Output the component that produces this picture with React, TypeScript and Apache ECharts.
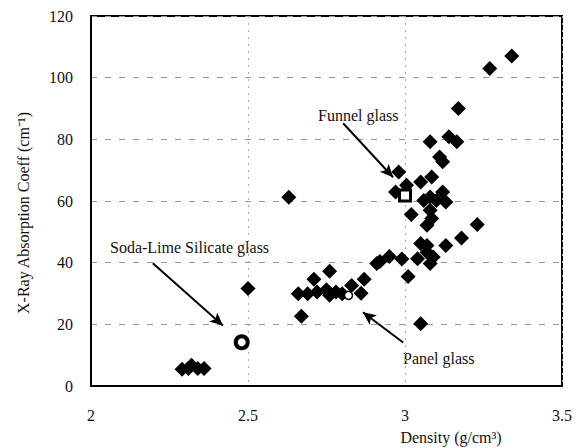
import React, { useEffect, useRef } from "react";
import * as echarts from "echarts";

// Diamonds: density (g/cm3), absorption coefficient (cm-1)
const diamondX = [
  2.29, 2.31, 2.32, 2.34, 2.36,
  2.50, 2.63,
  2.66, 2.67, 2.69, 2.71, 2.72, 2.75, 2.76, 2.76, 2.78, 2.80, 2.83, 2.86, 2.87,
  2.91, 2.92, 2.95, 2.99, 3.01, 3.04, 3.05, 3.07, 3.08, 3.09, 3.07, 3.13, 3.18, 3.23, 3.05,
  2.98, 2.97, 3.005, 3.02, 3.05, 3.085, 3.06, 3.08, 3.10, 3.12, 3.13, 3.08, 3.07, 3.085,
  3.08, 3.11, 3.12, 3.14, 3.165, 3.17, 3.27, 3.34,
];
const diamondY = [
  5.4, 5.7, 6.7, 5.7, 5.7,
  31.6, 61.2,
  29.9, 22.6, 29.9, 34.6, 30.5, 31.2, 37.2, 29.4, 30.5, 29.9, 32.6, 30.1, 34.6,
  39.7, 40.4, 42.0, 41.2, 35.5, 41.3, 46.2, 43.4, 39.7, 41.8, 45.6, 45.6, 48.0, 52.4, 20.2,
  69.4, 62.9, 65.1, 55.6, 66.2, 67.8, 60.2, 61.3, 60.2, 62.9, 59.7, 57.0, 52.1, 54.3,
  79.2, 74.3, 72.7, 80.8, 79.2, 90.0, 103, 107,
];

// Reference glasses
const sodaLime = [2.48, 14.2];
const panelGlass = [2.82, 29.4];
const funnelGlass = [3.0, 61.8];

// Annotation arrows (data coordinates: from -> to)
const arrows = [
  [[2.803, 85.2], [2.962, 67.7]],
  [[2.197, 39.8], [2.42, 19.6]],
  [[2.994, 14.1], [2.866, 23.9]],
];

const xTicks = { min: 2, max: 3.5, interval: 0.5 };
const yTicks = { min: 0, max: 120, interval: 20 };

const FONT = "Liberation Serif";

export default function App() {
  const ref = useRef<HTMLDivElement>(null);
  useEffect(() => {
    if (!ref.current) return;
    const chart = echarts.init(ref.current, null, { renderer: "svg" });
    const diamonds = diamondX.map((x, i) => [x, diamondY[i]]);
    chart.setOption({
      animation: false,
      backgroundColor: "#fff",
      grid: {
        left: 91,
        top: 16,
        right: 14,
        bottom: 62,
        show: true,
        borderColor: "#000",
        borderWidth: 2,
        backgroundColor: "transparent",
      },
      xAxis: {
        type: "value",
        ...xTicks,
        axisLine: { show: true, lineStyle: { color: "#000", width: 2 } },
        axisTick: { show: false },
        axisLabel: {
          color: "#111",
          fontFamily: FONT,
          fontSize: 16,
          margin: 21,
          formatter: (v: number) => String(v),
        },
        splitLine: { show: true, lineStyle: { color: "#aaa", type: [2, 5], width: 1 } },
      },
      yAxis: {
        type: "value",
        ...yTicks,
        axisLine: { show: true, lineStyle: { color: "#000", width: 2 } },
        axisTick: { show: false },
        axisLabel: { color: "#111", fontFamily: FONT, fontSize: 16, margin: 18 },
        splitLine: { show: true, lineStyle: { color: "#999", type: [6, 8], width: 1 } },
      },
      graphic: [
        {
          type: "text",
          x: 23,
          y: 213,
          rotation: Math.PI / 2,
          style: {
            text: "X-Ray Absorption Coeff (cm⁻¹)",
            fontFamily: FONT,
            fontSize: 16,
            fill: "#111",
            align: "center",
            verticalAlign: "middle",
          },
        },
        {
          type: "text",
          x: 451,
          y: 437,
          style: {
            text: "Density (g/cm³)",
            fontFamily: FONT,
            fontSize: 16,
            fill: "#111",
            align: "center",
            verticalAlign: "middle",
          },
        },
        {
          type: "text",
          x: 318,
          y: 115,
          style: { text: "Funnel glass", fontFamily: FONT, fontSize: 16, fill: "#111", verticalAlign: "middle" },
        },
        {
          type: "text",
          x: 110,
          y: 247,
          style: { text: "Soda-Lime Silicate glass", fontFamily: FONT, fontSize: 16, fill: "#111", verticalAlign: "middle" },
        },
        {
          type: "text",
          x: 403,
          y: 358,
          style: { text: "Panel glass", fontFamily: FONT, fontSize: 16, fill: "#111", verticalAlign: "middle" },
        },
      ],
      series: [
        {
          type: "scatter",
          data: diamonds,
          symbol: "diamond",
          symbolSize: 15,
          itemStyle: { color: "#000", opacity: 1 },
          markLine: {
            silent: true,
            symbol: ["none", "arrow"],
            symbolSize: [9, 13],
            label: { show: false },
            lineStyle: { color: "#000", width: 2, type: "solid", opacity: 1 },
            data: arrows.map(([a, b]) => [{ coord: a }, { coord: b }]),
          },
        },
        {
          type: "scatter",
          data: [sodaLime],
          symbol: "circle",
          symbolSize: 12,
          itemStyle: { color: "#fff", borderColor: "#000", borderWidth: 4, opacity: 1 },
        },
        {
          type: "scatter",
          data: [panelGlass],
          symbol: "circle",
          symbolSize: 8,
          itemStyle: { color: "#fff", borderColor: "#000", borderWidth: 1.5, opacity: 1 },
        },
        {
          type: "scatter",
          data: [funnelGlass],
          symbol: "rect",
          symbolSize: 11,
          itemStyle: { color: "#fff", borderColor: "#000", borderWidth: 3, opacity: 1 },
        },
      ],
    });
    return () => chart.dispose();
  }, []);
  return (
    <div
      ref={ref}
      style={{ position: "fixed", left: 0, top: 0, width: 576, height: 448 }}
    />
  );
}
